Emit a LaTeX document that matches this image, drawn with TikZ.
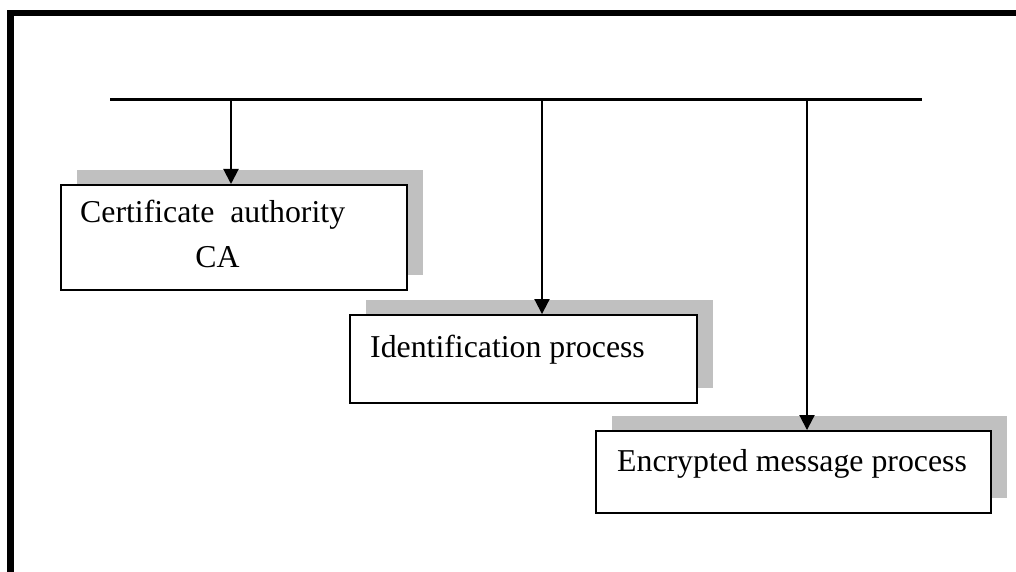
\documentclass[tikz,border=0pt]{standalone}
\usepackage{fontspec}
\setmainfont{Liberation Serif}
\usetikzlibrary{arrows.meta,shadows}
\definecolor{shadowgray}{RGB}{192,192,192}
\begin{document}
\begin{tikzpicture}[x=1pt,y=-1pt,
  frameline/.style={line width=6.5pt},
  busline/.style={line width=3pt},
  conn/.style={line width=2pt,-{Triangle[length=15pt,width=15pt]}},
  procbox/.style={draw,fill=white,line width=2pt,inner sep=0pt,
    general shadow={fill=shadowgray,shadow xshift=16pt,shadow yshift=15pt}},
  lbl/.style={font=\fontsize{31.8}{38}\selectfont,inner sep=0pt}]
\useasboundingbox (0,0) rectangle (1016,572);
% frame
\coordinate (fbl) at (10.5,575);
\coordinate (ftl) at (10.5,13);
\coordinate (ftr) at (1020,13);
\draw[frameline] (fbl) -- (ftl) -- (ftr);
% bus
\coordinate (busL) at (110,99.5);
\coordinate (busR) at (922,99.5);
\draw[busline] (busL) -- (busR);
\coordinate (b1) at (231,99.5);
\coordinate (b2) at (542,99.5);
\coordinate (b3) at (807,99.5);
% boxes
\node[procbox,minimum width=346pt,minimum height=105pt] (box1) at (233.7,237.5) {};
\node[procbox,minimum width=346.7pt,minimum height=87.7pt] (box2) at (523.3,358.9) {};
\node[procbox,minimum width=395.3pt,minimum height=81.7pt] (box3) at (793.3,471.9) {};
% texts
\node[lbl,anchor=base west] (t1a) at (80,222) {Certificate\ \ authority};
\node[lbl,anchor=base] (t1b) at (217.5,267) {CA};
\node[lbl,anchor=base west] (t2) at (370,357) {Identification process};
\node[lbl,anchor=base west] (t3) at (617,471.5) {Encrypted message process};
% connectors
\draw[conn] (b1) -- (b1 |- box1.north);
\draw[conn] (b2) -- (b2 |- box2.north);
\draw[conn] (b3) -- (b3 |- box3.north);
\end{tikzpicture}
\end{document}
